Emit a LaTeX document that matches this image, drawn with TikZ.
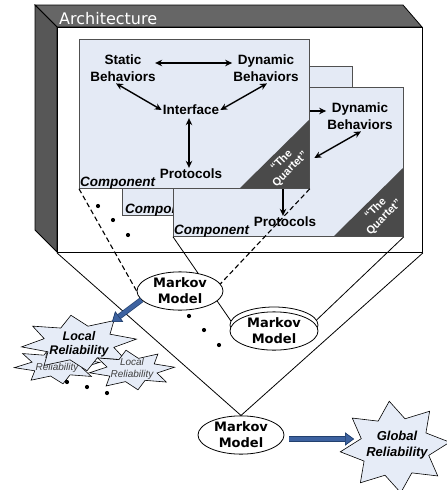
\documentclass[tikz,border=0pt]{standalone}
\usepackage{fontspec}
\setmainfont{Liberation Sans}
\newfontfamily\dejavu{DejaVu Sans}
\usetikzlibrary{arrows.meta,calc,shapes.geometric}
\definecolor{compfill}{HTML}{E4EAF5}
\definecolor{compline}{HTML}{505050}
\definecolor{quartet}{HTML}{4A4A4A}
\definecolor{archtop}{HTML}{666666}
\definecolor{archside}{HTML}{575757}
\definecolor{starfill}{HTML}{E6ECF7}
\definecolor{arrowblue}{HTML}{3D62A0}
\definecolor{arrowdark}{HTML}{22406E}
\pgfdeclarelayer{archlayer}
\pgfdeclarelayer{linelayer}
\pgfsetlayers{archlayer,linelayer,main}
\newif\ifhiddenparts
\newcommand\drawstar[6]{%
  \draw[starsty] plot[samples at={0,...,15}, variable=\t]
    ({#1+ifthenelse(mod(\t,2)==0,1,#6)*#3*cos(-90+#5+\t*22.5)},
     {#2+ifthenelse(mod(\t,2)==0,1,#6)*#4*sin(-90+#5+\t*22.5)}) -- cycle;}
\tikzset{
  x=1pt, y=-1pt,
  lbl/.style={font=\fontsize{13.5}{16.5}\selectfont\bfseries, align=center, inner sep=1pt},
  complbl/.style={font=\fontsize{13.5}{16}\selectfont\bfseries\itshape, inner sep=0pt, anchor=base west},
  compbox/.style={draw=compline, fill=compfill, line width=0.8pt, minimum width=230pt,
    minimum height=149pt, inner sep=0pt, anchor=north west},
  quart/.style={font=\fontsize{11}{12}\selectfont\bfseries, text=white, align=center,
    rotate=45, inner sep=0pt},
  biarrow/.style={{Stealth[length=7pt,width=6.5pt]}-{Stealth[length=7pt,width=6.5pt]}, line width=1.4pt},
  markov/.style={ellipse, draw, fill=white, line width=0.8pt, minimum width=86pt,
    minimum height=36pt, inner sep=0.5pt, align=center,
    font=\dejavu\bfseries\fontsize{13}{16}\selectfont},
  starsty/.style={draw=black, fill=starfill, line width=0.6pt, line join=miter},
  bigstartext/.style={font=\fontsize{12.5}{14}\selectfont\bfseries\itshape, align=center, inner sep=0pt},
  smallstartext/.style={font=\fontsize{10}{12}\selectfont\itshape, text=black!75, align=center, inner sep=0pt},
  mmline/.style={line width=0.8pt},
  dashline/.style={line width=1.1pt, dash pattern=on 5pt off 3pt},
  dotsty/.style={fill=black},
  bluearrow/.style={line width=4.2pt, draw=arrowblue,
    -{Triangle[length=9pt,width=13pt,line width=0.6pt,color=arrowdark,fill=arrowblue]},
    preaction={draw=arrowdark, line width=5.6pt,
      -{Triangle[length=9pt,width=13pt,line width=0.6pt,color=arrowdark,fill=arrowblue]}}},
  component/.pic={
    \node[compbox] (-box) at (0,0) {};
    \fill[quartet] (161,149) -- (230,149) -- (230,81) -- cycle;
    \node[quart] (-q) at (207,126) {“The\\Quartet”};
    \node[lbl] (-sb) at (44,29) {\ifhiddenparts\phantom{Behaviors}\else Static\\Behaviors\fi};
    \node[lbl] (-db) at (187,29) {Dynamic\\Behaviors};
    \node[lbl] (-if) at (112,71) {\ifhiddenparts\phantom{Interface}\else Interface\fi};
    \node[lbl] (-pr) at (112,135) {Protocols};
    \node[complbl] (-cl) at (1,147) {Component};
    \draw[biarrow] ($(-db.west)+(0,-5)$) ++(-77,0) -- ($(-db.west)+(0,-5)$);
    \draw[biarrow] ($(-db.south)+(1,1)$) -- (-if.east);
    \ifhiddenparts\else
      \draw[biarrow] ($(-sb.south)+(-7,1)$) -- (-if.west);
    \fi
    \draw[biarrow] ($(-if.south)+(-2,2)$) -- ($(-pr.north)+(-2,0)$);
  }
}
\begin{document}
\begin{tikzpicture}
\useasboundingbox (0,0) rectangle (447,490);
\begin{pgfonlayer}{archlayer}
  % architecture box
  \draw[fill=archtop, line width=0.8pt] (35,5) -- (403,5) -- (422,27) -- (57,27) -- cycle;
  \draw[fill=archside, line width=0.8pt] (35,5) -- (57,27) -- (57,252) -- (35,230) -- cycle;
  \node[draw, fill=white, line width=0.9pt, minimum width=365pt, minimum height=225pt,
    inner sep=0pt, anchor=north west] (arch) at (57,27) {};
  \node[font=\dejavu\fontsize{16}{18}\selectfont, text=white, anchor=base west, inner sep=0pt]
    (archlbl) at (59,24) {Architecture};
  % back component (only its corner shows)
  \node[compbox] (c2box) at (122,66) {};
  \node[complbl] (c2cl) at (125,213) {Component};
  % middle component (parts hidden behind the front one are left out)
  \hiddenpartstrue
  \pic (c3) at (173,87) {component};
  \hiddenpartsfalse
  % front component
  \pic (c1) at (79,39) {component};
  % dots between components
  \fill[dotsty] (98,206) circle (2.1);
  \fill[dotsty] (113,220) circle (2.1);
  \fill[dotsty] (128,235) circle (2.1);
\end{pgfonlayer}

% Markov models
\node[markov] (mm1) at (180,291) {Markov\\Model};
\node[markov, minimum width=88pt] (mm2b) at (274,325) {};
\node[markov, minimum width=88pt, minimum height=34pt] (mm2) at (274,331) {Markov\\Model};
\node[markov] (mm3) at (241,435) {Markov\\Model};

\begin{pgfonlayer}{linelayer}
  \draw[dashline] (c1-box.south west) -- (mm1.west);
  \draw[dashline] (c1-box.south east) -- (mm1.10);
  \draw[mmline] (c3-box.south west) -- (mm2.170);
  \draw[mmline] (c3-box.south east) -- (mm2.12);
  \draw[mmline] (arch.south west) -- (mm3.north);
  \draw[mmline] (arch.south east) -- (mm3.north);
\end{pgfonlayer}

% dots between Markov models
\fill[dotsty] (189,316) circle (2.1);
\fill[dotsty] (204,330) circle (2.1);
\fill[dotsty] (219,345) circle (2.1);

% local reliability stars
\drawstar{57}{365}{43}{19}{-8}{0.6}
\node[smallstartext] (ls2) at (57,362) {Local\\Reliability};
\drawstar{79}{343}{58}{28}{-8}{0.62}
\node[bigstartext] (ls1) at (79,344) {Local\\Reliability};
\drawstar{132}{370}{43}{20}{-8}{0.6}
\node[smallstartext] (ls3) at (132,369) {Local\\Reliability};
\fill[dotsty] (67,382) circle (2.1);
\fill[dotsty] (87,387) circle (2.1);
\fill[dotsty] (107,393) circle (2.1);

% global reliability star
\drawstar{395}{447}{55}{46}{-6}{0.64}
\node[font=\fontsize{13}{16}\selectfont\bfseries\itshape, align=center, inner sep=0pt]
  (gs) at (397,445) {Global\\Reliability};

% blue arrows
\coordinate (lstip) at (112,322);
\coordinate (gstip) at (354,439);
\draw[bluearrow] (mm1.193) -- (lstip);
\draw[bluearrow] ($(mm3.east)+(5,4)$) -- (gstip);
\end{tikzpicture}
\end{document}
